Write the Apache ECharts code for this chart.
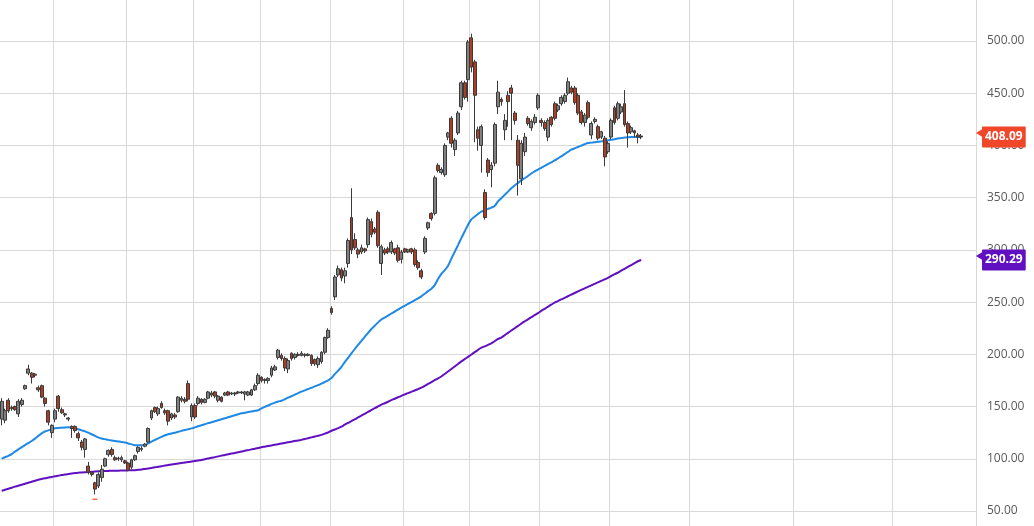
<!DOCTYPE html>
<html>
<head>
<meta charset="utf-8">
<script src="https://cdn.jsdelivr.net/npm/echarts@6/dist/echarts.min.js"></script>
<style>
html,body{margin:0;padding:0;background:#fff;}
#chart{width:1034px;height:526px;}
</style>
</head>
<body>
<div id="chart"></div>
<script>
// ---- data ----
const slotCount = 293; // visible daily slots (data + empty future area)
const monthLines = [16, 38, 58, 78, 99, 121, 141, 162, 183, 207, 238, 268];
const yTicks = [50, 100, 150, 200, 250, 300, 350, 400, 450, 500];

const opens = [138,137,156,148,150,143,152,167,182,182,
180,168,170,158,146,125,138,160,147,143,
139,131,131,124,116,109,93,87,77,74,
82,93,104,109,101,100,99,98,96,92,
99,107,109,112,116,139,149,143,153,146,
146,139,142,145,156,157,172,140,151,153,
157,154,158,161,164,156,159,161,164,162,
163,163,164,162,161,161,166,172,178,175,
175,180,185,197,199,196,186,201,197,200,
199,200,199,199,195,190,193,202,216,244,
255,276,281,275,287,331,310,300,298,301,
305,327,320,336,287,300,301,298,301,302,
291,301,298,301,300,288,280,298,321,335,
335,381,374,372,408,426,396,412,437,460,
463,503,480,415,400,355,386,377,383,437,
444,415,448,455,431,405,368,394,426,417,
422,436,424,422,408,427,440,434,440,442,
450,455,455,448,432,422,441,410,423,418,
408,407,394,408,436,426,432,440,421,413,
414,410,409];
const closes = [155,146,146,149,147,155,156,170,186,178,
181,166,159,153,135,132,146,148,144,142,
138,129,127,120,111,119,87,85,71,85,
90,100,108,104,99,100.5,101,96,89,99,
103,111,110,114,129,146,145,148,149,144,
136,143,140,159,158,155,157,151,140,158,
154,157,164,163,160,160,155,163,161,163,
162,164,163,164,164,166,170,180,175,176,
177,187,188,204,196,187,194,196,200,199,
201,199,200,191,191,196,202,216,223,240,
274,282,273,280,309,300,302,296,302,299,
329,315,317,304,303,297,298,307,297,290,
298,298,300,298,286,283,274,311,326,330,
369,376,377,400,412,402,405,431,460,446,
499,475,448,407,418,331,374,381,420,451,
442,424,442,450,424,381,402,408,421,423,
427,448,422,416,424,420,426,438,446,448,
461,451,441,431,422,429,427,421,425,407,
413,389,402,424,422,440,437,420,412,417,
412,408,408.09];
const lows = [132,134,144,146,146,140,150,166,180,172,
178,164,158,150,132,120,135,145,143,140,
136,120,125,117,108,101,85,83,66,72,
78,92,102,102,98,98,97,95,88,90,
98,105,107,111,115,137,144,141,148,142,
132,137,138,144,154,153,155,136,138,151,
152,153,157,159,158,154,154,160,160,161,
160,162,162,156,160,160,165,170,173,172,
172,178,184,195,194,184,182,194,195,198,
198,197,198,189,189,187,191,200,215,238,
252,274,270,268,283,296,300,292,296,297,
302,312,315,302,276,295,296,296,295,288,
287,297,297,296,284,281,272,296,319,328,
333,374,372,370,405,398,390,410,434,444,
442,470,403,395,374,329,370,360,380,430,
438,405,418,405,420,352,362,390,419,414,
420,434,418,414,404,418,424,432,438,440,
448,449,439,429,420,418,425,406,421,405,
406,380,392,406,420,424,430,418,398,411,
408,402,406];
const highs = [158,148,158,151,151,157,158,171,190,183,
182,170,171,159,147,133,148,161,149,144,
140,132,132,126,118,120,97,88,78,87,
94,101,109,111,103,102,103,99,97,100,
104,112,112,115,130,147,150,150,155,148,
147,144,144,160,160,159,175,153,153,160,
158,158,165,165,165,161,160,164,165,164,
164,165,165,165,165,167,172,182,179,177,
178,189,190,205,201,198,196,202,201,202,
203,201,201,200,196,198,203,217,225,246,
276,285,283,283,311,359,316,302,305,302,
331,330,322,338,305,302,303,309,302,305,
300,302,301,302,302,290,282,313,327,336,
371,383,379,402,413,428,407,433,462,462,
501,507,482,418,420,358,388,384,422,462,
446,430,452,458,433,410,405,412,428,425,
430,450,426,424,426,428,442,440,448,450,
465,457,457,450,434,431,443,423,427,420,
414,409,404,426,438,442,440,453,423,419,
415,412,411];
const maFast = [100.2,101.5,102.8,104.5,106.8,109.0,111.0,113.1,115.0,117.0,
119.3,121.9,124.4,126.1,127.2,128.2,129.3,129.5,129.8,130.0,
130.1,129.7,129.3,128.3,127.2,126.2,125.0,123.5,122.0,120.5,
119.4,118.8,118.1,117.6,117.1,116.6,116.1,115.5,114.7,113.8,
113.0,113.0,113.0,113.0,114.8,116.5,118.0,119.5,121.0,122.5,
123.4,124.2,125.0,125.8,126.7,127.5,128.3,129.1,130.1,131.1,
132.1,133.1,134.1,135.0,136.0,136.9,137.9,138.8,139.7,140.7,
141.6,142.6,143.5,144.1,144.7,145.3,145.9,146.5,148.3,149.7,
151.0,152.5,153.8,154.9,155.6,157.0,158.5,159.9,161.4,162.9,
164.3,165.5,166.8,168.0,169.3,170.5,172.0,173.5,175.1,177.3,
181.0,184.4,188.1,192.5,196.7,200.9,205.1,209.1,212.9,216.7,
220.6,224.2,227.4,230.6,233.4,235.2,237.1,239.1,240.9,242.9,
244.8,246.5,248.3,250.0,251.8,253.6,255.5,258.0,260.5,262.9,
266.3,272.1,277.0,280.6,284.9,291.6,298.1,304.6,311.3,317.6,
323.9,329.2,331.8,334.4,336.6,337.9,339.2,340.5,342.1,346.4,
349.5,352.7,355.8,359.0,361.7,364.1,366.5,368.6,370.8,373.1,
375.1,376.9,378.6,380.4,382.1,383.9,385.6,387.6,389.6,391.7,
393.8,395.9,397.2,398.5,399.8,401.1,402.3,402.7,403.1,403.5,
403.9,404.4,404.9,405.5,406.0,406.6,407.2,407.5,407.8,408.0,
408.0,408.0,408.0];
const maSlow = [69.4,70.4,71.3,72.3,73.3,74.2,75.2,76.1,77.1,78.0,
79.0,79.9,80.7,81.3,82.0,82.6,83.3,83.8,84.4,84.9,
85.4,86.0,86.3,86.7,86.8,87.0,87.3,87.5,87.8,88.0,
88.1,88.3,88.4,88.5,88.6,88.6,88.7,88.8,88.9,89.0,
89.1,89.4,89.8,90.3,90.8,91.2,91.8,92.4,92.9,93.5,
94.0,94.5,95.0,95.5,96.0,96.5,96.9,97.4,97.9,98.4,
98.9,99.6,100.3,101.0,101.6,102.3,103.0,103.6,104.3,105.0,
105.6,106.3,107.0,107.6,108.3,109.0,109.6,110.3,111.0,111.6,
112.2,112.8,113.4,114.0,114.6,115.2,115.8,116.4,117.0,117.6,
118.1,118.9,119.7,120.5,121.3,122.1,122.9,124.1,125.2,126.8,
128.0,129.3,130.7,132.6,134.3,136.1,137.8,139.6,141.4,143.1,
144.9,146.6,148.4,150.1,151.8,153.2,154.6,156.1,157.5,158.9,
160.3,161.6,162.9,164.1,165.4,166.7,168.1,169.8,171.6,173.4,
175.2,176.9,178.8,181.2,183.6,186.0,188.4,190.8,193.2,195.4,
197.6,199.8,202.1,204.3,206.4,207.6,209.1,210.6,212.5,214.7,
216.1,218.3,220.6,222.8,225.0,227.2,229.4,231.5,233.5,235.6,
237.5,239.5,241.6,243.6,245.6,247.6,249.5,251.0,252.6,254.1,
255.6,257.2,258.7,260.2,261.7,263.2,264.6,266.0,267.5,268.9,
270.4,271.8,273.3,275.0,276.7,278.3,280.1,281.9,283.7,285.5,
287.3,289.1,290.29];

// ---- build ----
const categories = Array.from({length: slotCount}, (_, i) => String(i));
const candleData = opens.map((o, i) => [o, closes[i], lows[i], highs[i]]);
const lastClose = closes[closes.length - 1];
const lastSlow = maSlow[maSlow.length - 1];

const FONT = "'Open Sans', 'Noto Sans', sans-serif";
const GRID_COLOR = '#d9d9d9';

function tag(value, color) {
  return {
    silent: true,
    symbol: ['none', 'triangle'],
    symbolSize: [10, 8],
    symbolRotate: 90,
    symbolOffset: [0, 4],
    lineStyle: { width: 0, color: color, type: 'solid' },
    label: {
      show: true, position: 'end', distance: 6,
      formatter: value.toFixed(2),
      color: '#fff', fontWeight: 'bold', fontSize: 12, fontFamily: FONT,
      backgroundColor: color, padding: [5, 3, 4, 3], borderRadius: 1
    },
    emphasis: { disabled: true },
    animation: false,
    data: [{ yAxis: value }]
  };
}

const chart = echarts.init(document.getElementById('chart'), null, { renderer: 'canvas' });
chart.setOption({
  animation: false,
  backgroundColor: '#fff',
  grid: [
    { left: 0, right: 58, top: 0, bottom: 0, outerBoundsMode: 'none' },
    { left: 0, right: 58, top: 41, bottom: 15, outerBoundsMode: 'none' }
  ],
  xAxis: [
    {
      type: 'category', gridIndex: 0, data: categories, boundaryGap: true,
      axisLine: { show: false }, axisTick: { show: false }, axisLabel: { show: false },
      splitLine: { show: true, interval: (idx) => monthLines.includes(idx),
                   lineStyle: { color: GRID_COLOR, width: 1 } }
    },
    {
      type: 'category', gridIndex: 1, data: categories, boundaryGap: true,
      axisLine: { show: false }, axisTick: { show: false }, axisLabel: { show: false },
      splitLine: { show: false }
    }
  ],
  yAxis: [
    {
      type: 'value', gridIndex: 0, position: 'right', min: 0, max: 1,
      axisLine: { show: true, lineStyle: { color: GRID_COLOR, width: 1 } },
      axisTick: { show: false }, axisLabel: { show: false }, splitLine: { show: false }
    },
    {
      type: 'value', gridIndex: 1, position: 'right',
      min: yTicks[0], max: yTicks[yTicks.length - 1], interval: yTicks[1] - yTicks[0],
      axisLine: { show: false }, axisTick: { show: false },
      splitLine: { show: true, lineStyle: { color: GRID_COLOR, width: 1 } },
      axisLabel: { show: true, margin: 11, color: '#5a5a5a', fontSize: 12, fontFamily: FONT,
                   formatter: (v) => v.toFixed(2) }
    }
  ],
  series: [
    {
      name: 'MA fast', type: 'line', xAxisIndex: 1, yAxisIndex: 1,
      data: maFast, symbol: 'none', smooth: 0.3, clip: false, z: 2,
      lineStyle: { color: '#1e88e5', width: 2 }
    },
    {
      name: 'MA slow', type: 'line', xAxisIndex: 1, yAxisIndex: 1,
      data: maSlow, symbol: 'none', smooth: 0.3, clip: false, z: 2,
      lineStyle: { color: '#6010c0', width: 2 },
      markLine: tag(lastSlow, '#6010c0')
    },
    {
      name: 'Price', type: 'candlestick', xAxisIndex: 1, yAxisIndex: 1,
      data: candleData, clip: false, z: 3, barWidth: '100%',
      itemStyle: {
        color: '#808080', color0: '#b03c22',
        borderColor: '#3a3a3a', borderColor0: '#3a3a3a', borderWidth: 1
      },
      markPoint: {
        silent: true, symbol: 'rect', symbolSize: [5, 1.5], label: { show: false },
        itemStyle: { color: '#ff6a4d' },
        data: [
          { type: 'max', valueDim: 'highest', symbolOffset: [0, -5] },
          { type: 'min', valueDim: 'lowest', symbolOffset: [0, 5] }
        ]
      },
      markLine: tag(lastClose, '#f0462a')
    }
  ]
});
</script>
</body>
</html>
